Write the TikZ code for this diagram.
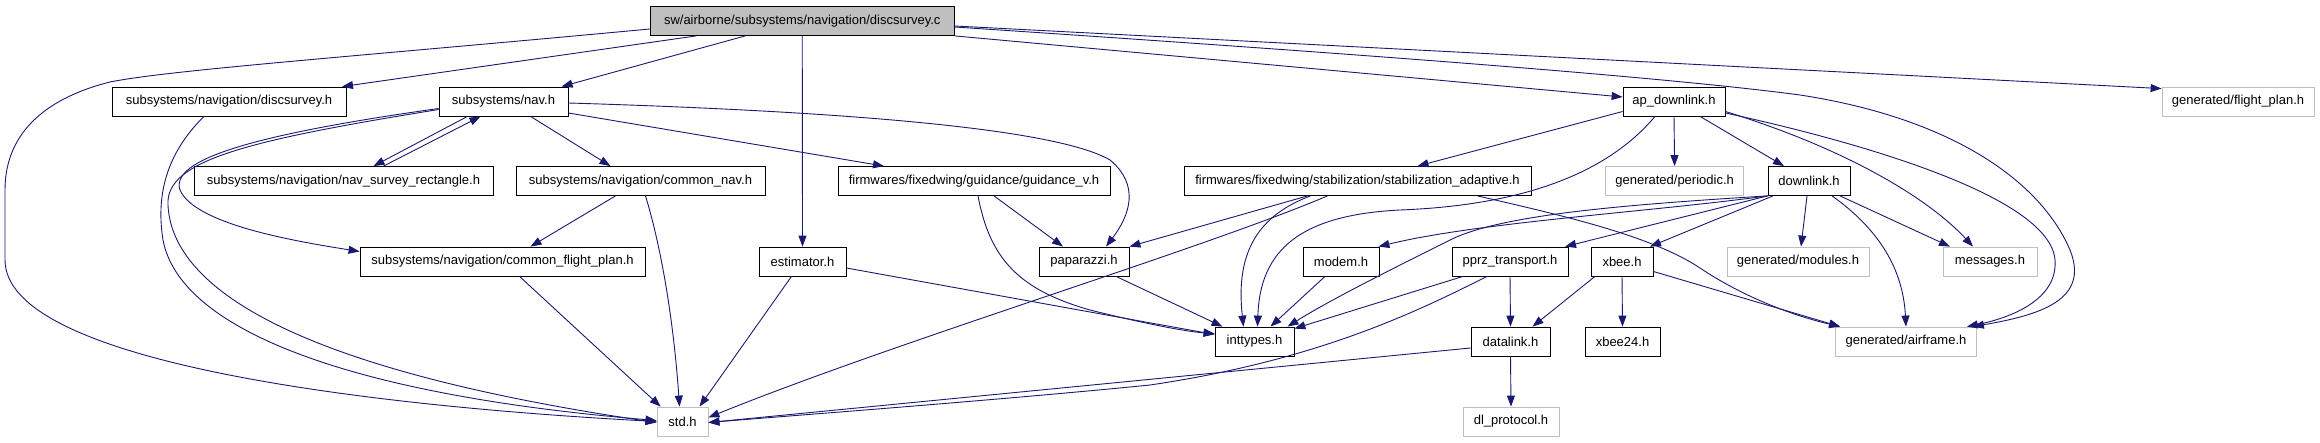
\documentclass[tikz,border=0pt]{standalone}
\usepackage{fontspec}
\setmainfont{Liberation Sans}
\usetikzlibrary{arrows.meta}
\definecolor{edgecol}{HTML}{191970}
\definecolor{extgray}{HTML}{BFBFBF}
\definecolor{rootfill}{HTML}{BFBFBF}
\tikzset{
  hdr/.style={draw=black, line width=0.8pt, fill=white, minimum height=29pt, inner xsep=9pt, inner ysep=0pt, font=\fontsize{13}{15}\selectfont, anchor=center},
  exthdr/.style={hdr, draw=extgray},
  roothdr/.style={hdr, fill=rootfill},
  dep/.style={draw=edgecol, line width=0.9pt, -{Triangle[length=11pt,width=8pt]}, edgecol}
}
\begin{document}
\begin{tikzpicture}[x=1pt,y=-1pt]
\useasboundingbox (0,0) rectangle (2320,443);
% nodes
\node[roothdr, minimum width=304pt] (root) at (802.25,21) {sw/airborne/subsystems/navigation/discsurvey.c};
\node[hdr, minimum width=234pt] (discsurvey) at (229,101.5) {subsystems/navigation/discsurvey.h};
\node[hdr, minimum width=129pt] (nav) at (503.5,101.5) {subsystems/nav.h};
\node[hdr, minimum width=102pt] (apdl) at (1674,101.5) {ap\_downlink.h};
\node[exthdr, minimum width=152pt] (fplan) at (2238,101.5) {generated/flight\_plan.h};
\node[hdr, minimum width=299pt] (navsurv) at (343.5,181) {subsystems/navigation/nav\_survey\_rectangle.h};
\node[hdr, minimum width=249pt] (cnav) at (640.5,181) {subsystems/navigation/common\_nav.h};
\node[hdr, minimum width=272pt] (guid) at (974,181) {firmwares/fixedwing/guidance/guidance\_v.h};
\node[hdr, minimum width=347pt] (stab) at (1357.5,181) {firmwares/fixedwing/stabilization/stabilization\_adaptive.h};
\node[exthdr, minimum width=138pt] (periodic) at (1674.6,181) {generated/periodic.h};
\node[hdr, minimum width=82pt] (downlink) at (1809,181) {downlink.h};
\node[hdr, minimum width=285pt] (cfp) at (502.5,261.5) {subsystems/navigation/common\_flight\_plan.h};
\node[hdr, minimum width=87pt] (est) at (802.5,261.5) {estimator.h};
\node[hdr, minimum width=90pt] (pap) at (1084,261.5) {paparazzi.h};
\node[hdr, minimum width=76pt] (modem) at (1341,261.5) {modem.h};
\node[hdr, minimum width=116pt] (pprz) at (1510,261.5) {pprz\_transport.h};
\node[hdr, minimum width=62pt] (xbee) at (1622,261.5) {xbee.h};
\node[exthdr, minimum width=142pt] (modules) at (1798,261.5) {generated/modules.h};
\node[exthdr, minimum width=94pt] (messages) at (1990,261.5) {messages.h};
\node[hdr, minimum width=79pt] (inttypes) at (1254.5,341.5) {inttypes.h};
\node[hdr, minimum width=79pt] (datalink) at (1510.5,341.5) {datalink.h};
\node[hdr, minimum width=75pt] (xbee24) at (1622.5,341.5) {xbee24.h};
\node[exthdr, minimum width=141pt] (airframe) at (1906,341.5) {generated/airframe.h};
\node[exthdr, minimum width=51pt] (std) at (682.5,421.5) {std.h};
\node[exthdr, minimum width=96pt] (dlp) at (1511,421.5) {dl\_protocol.h};
% edges from root
\draw[dep] ([yshift=-8pt]root.west) .. controls (350,57) and (170,70) .. (110,82) .. controls (50,97) and (5,130) .. (5,190) -- (5,260) .. controls (5,360) and (350,405) .. (std.west);
\draw[dep] ([xshift=-106pt]root.south) -- ([xshift=113pt]discsurvey.north);
\draw[dep] ([xshift=-57pt]root.south) -- ([xshift=58pt]nav.north);
\draw[dep] (root.south) -- (est.north);
\draw[dep] (root.south east) -- ([yshift=4.5pt]apdl.west);
\draw[dep] ([yshift=-5pt]root.east) -- ([yshift=-2pt]fplan.north west);
\draw[dep] ([yshift=-6pt]root.east) .. controls (1300,50) and (1650,75) .. (1800,95) .. controls (1950,118) and (2040,180) .. (2070,250) .. controls (2090,300) and (2040,315) .. ([xshift=-4pt]airframe.north east);
% ap_downlink
\draw[dep] ([yshift=-11.5pt]apdl.east) .. controls (1850,140) and (2050,195) .. (2055,260) .. controls (2058,300) and (2010,318) .. ([xshift=-10pt]airframe.north east);
\draw[dep] ([yshift=-10pt]apdl.east) .. controls (1850,150) and (1930,200) .. ([xshift=-17pt]messages.north);
\draw[dep] ([xshift=-19pt]apdl.south) .. controls (1610,170) and (1530,205) .. (1400,210) .. controls (1300,215) and (1260,250) .. ([xshift=3pt]inttypes.north);
\draw[dep] ([yshift=-10pt]apdl.west) -- ([xshift=60pt]stab.north);
\draw[dep] (apdl.south) -- (periodic.north);
\draw[dep] ([xshift=26pt]apdl.south) -- ([xshift=-25pt]downlink.north);
% downlink
\draw[dep] ([xshift=31pt]downlink.south) -- ([xshift=-40pt]messages.north);
\draw[dep] ([xshift=23pt]downlink.south) .. controls (1880,230) and (1903,270) .. (airframe.north);
\draw[dep] ([xshift=-2pt]downlink.south) -- ([xshift=3pt]modules.north);
\draw[dep] ([xshift=-36pt]downlink.south) -- ([xshift=28pt]xbee.north);
\draw[dep] (downlink.south west) -- ([xshift=55pt]pprz.north);
\draw[dep] (downlink.south west) .. controls (1650,212) and (1480,222) .. ([xshift=-1pt]modem.north east);
\draw[dep] (downlink.south west) .. controls (1620,205) and (1500,215) .. (1450,240) .. controls (1390,270) and (1330,300) .. ([xshift=33pt]inttypes.north);
% stabilization_adaptive
\draw[dep] ([xshift=-47pt]stab.south) .. controls (1260,215) and (1235,250) .. ([xshift=-11pt]inttypes.north);
\draw[dep] ([xshift=-50pt]stab.south) -- (pap.north east);
\draw[dep] ([xshift=-30pt]stab.south) .. controls (1200,250) and (900,340) .. ([yshift=4pt]std.east);
\draw[dep] ([xshift=120pt]stab.south) .. controls (1560,215) and (1650,235) .. (1700,268) .. controls (1740,295) and (1790,315) .. ([xshift=5pt]airframe.north west);
% xbee, pprz, datalink
\draw[dep] ([yshift=-10pt]xbee.east) -- ([xshift=5pt]airframe.north west);
\draw[dep] ([xshift=-27pt]xbee.south) -- ([xshift=22pt]datalink.north);
\draw[dep] (xbee.south) -- (xbee24.north);
\draw[dep] (pprz.south) -- (datalink.north);
\draw[dep] ([xshift=-47pt]pprz.south) -- ([yshift=-2pt]inttypes.north east);
\draw[dep] ([xshift=-23pt]pprz.south) .. controls (1420,310) and (1320,360) .. (1150,385) .. controls (1000,400) and (800,415) .. ([yshift=-1pt]std.east);
\draw[dep] ([yshift=-6.5pt]datalink.west) -- ([yshift=-1pt]std.east);
\draw[dep] (datalink.south) -- (dlp.north);
\draw[dep] ([xshift=-16pt]modem.south) -- ([xshift=16pt]inttypes.north);
% estimator, guidance, paparazzi
\draw[dep] ([xshift=-11pt]est.south) -- ([xshift=17pt]std.north);
\draw[dep] ([yshift=-6.5pt]est.east) -- ([yshift=7pt]inttypes.west);
\draw[dep] ([xshift=4pt]guid.south) .. controls (990,260) and (1020,290) .. (1090,310) .. controls (1150,325) and (1190,332) .. ([yshift=8pt]inttypes.west);
\draw[dep] ([xshift=20pt]guid.south) -- ([xshift=-21pt]pap.north);
\draw[dep] ([xshift=32pt]pap.south) -- ([xshift=-32pt]inttypes.north);
% nav
\draw[dep] ([yshift=-1.5pt]nav.east) .. controls (800,110) and (1050,125) .. (1110,160) .. controls (1140,185) and (1130,215) .. ([xshift=22pt]pap.north);
\draw[dep] ([yshift=-11.5pt]nav.east) -- ([xshift=-90pt]guid.north);
\draw[dep] ([xshift=27pt]nav.south) -- ([xshift=-30pt]cnav.north);
\draw[dep] ([xshift=-36pt]nav.south) -- ([xshift=30pt]navsurv.north);
\draw[dep] ([xshift=40pt]navsurv.north) -- ([xshift=-23pt]nav.south);
\draw[dep] ([yshift=-8pt]nav.west) .. controls (250,140) and (165,160) .. (168,205) .. controls (172,290) and (300,370) .. ([yshift=-1pt]std.west);
\draw[dep] ([yshift=-7pt]nav.west) .. controls (250,135) and (170,160) .. (180,190) .. controls (195,225) and (300,242) .. ([yshift=10pt]cfp.west);
% common_nav, common_flight_plan, discsurvey
\draw[dep] ([xshift=-25pt]cnav.south) -- ([xshift=28pt]cfp.north);
\draw[dep] ([xshift=5pt]cnav.south) .. controls (665,260) and (675,340) .. ([xshift=-3pt]std.north);
\draw[dep] ([xshift=17pt]cfp.south) -- ([xshift=4pt]std.north west);
\draw[dep] ([xshift=-25pt]discsurvey.south) .. controls (170,150) and (155,190) .. (163,240) .. controls (180,330) and (350,395) .. ([yshift=1pt]std.west);
\end{tikzpicture}
\end{document}
